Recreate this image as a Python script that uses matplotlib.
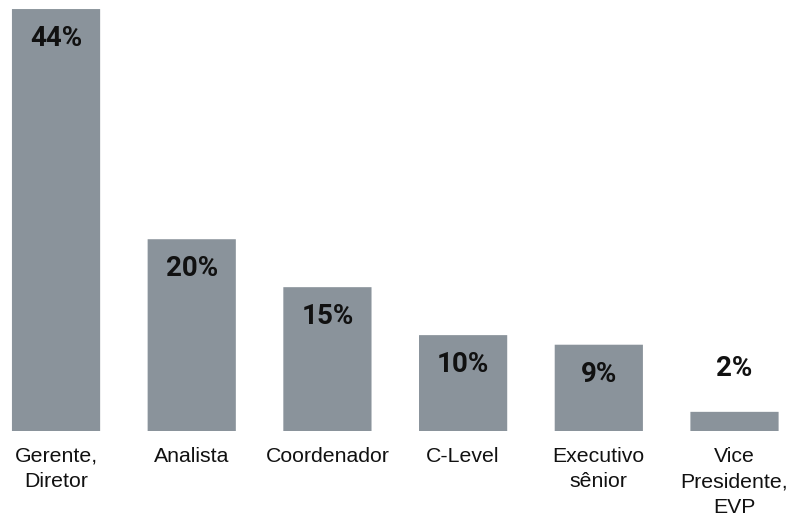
import matplotlib
matplotlib.use("Agg")
import matplotlib.pyplot as plt
from matplotlib.patches import FancyBboxPatch

categories = ["Gerente,\nDiretor", "Analista", "Coordenador", "C-Level",
              "Executivo\nsênior", "Vice\nPresidente,\nEVP"]
values = [44, 20, 15, 10, 9, 2]
value_labels = ["44%", "20%", "15%", "10%", "9%", "2%"]

BAR_COLOR = "#8a939b"
TEXT_COLOR = "#111111"

fig = plt.figure(figsize=(7.9, 5.17), dpi=100)
ax = fig.add_axes([0, 0.1663, 1, 0.8162])
ax.set_xlim(-0.413, 5.409)
ax.set_ylim(0, 44)
ax.axis("off")

xs = list(range(len(values)))
bars = ax.bar(xs, values, width=0.65, color=BAR_COLOR)

# rounded top corners: replace each rectangle with a rounded box that extends
# below the baseline so the lower corners are clipped by the axes
px_x = 1 / 135.7   # data units per pixel (x)
px_y = 1 / 9.59    # data units per pixel (y)
for rect in bars:
    rect.set_visible(False)
    x0, w, h = rect.get_x(), rect.get_width(), rect.get_height()
    patch = FancyBboxPatch((x0, -1), w, h + 1,
                           boxstyle=f"round,pad=0,rounding_size={3 * px_x}",
                           mutation_aspect=px_x / px_y,
                           facecolor=BAR_COLOR, edgecolor="none",
                           clip_on=True)
    ax.add_patch(patch)

for x, v, lab in zip(xs, values, value_labels):
    off = -26.6 if v >= 5 else 26.0
    ax.annotate(lab, xy=(x, v), xytext=(0, off), textcoords="offset points",
                ha="center", va="baseline", fontsize=20, fontweight="bold",
                family=["Roboto", "DejaVu Sans"],
                color=TEXT_COLOR, annotation_clip=False)

for x, cat in zip(xs, categories):
    ax.annotate(cat, xy=(x, 0), xytext=(0, -11.2), textcoords="offset points",
                ha="center", va="top", fontsize=15.3, color=TEXT_COLOR,
                family=["Liberation Sans", "DejaVu Sans"],
                linespacing=1.45, multialignment="center", annotation_clip=False)

fig.savefig("out.png", dpi=100, facecolor="white")
